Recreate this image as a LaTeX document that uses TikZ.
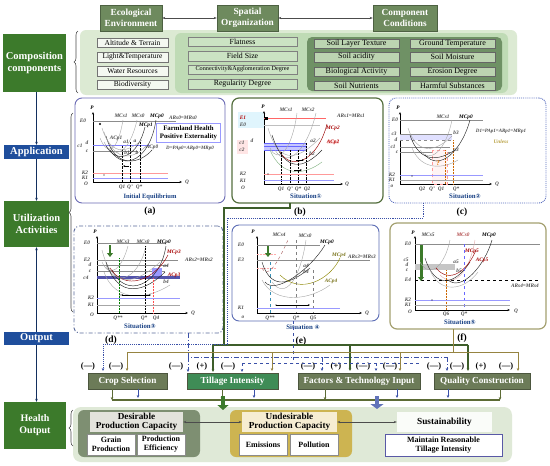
\documentclass[tikz,border=0pt]{standalone}
\usepackage{fontspec}
\setmainfont{Liberation Serif}
\newfontfamily\dvs{DejaVu Sans}
\usetikzlibrary{arrows.meta,decorations.pathreplacing}
\definecolor{dkgreen}{HTML}{3C7A2B}
\definecolor{hdrgreen}{HTML}{6E8A5E}
\definecolor{tblue}{HTML}{1F4E9C}
\definecolor{regL}{HTML}{DCEAD3}
\definecolor{regM}{HTML}{BFDBB5}
\definecolor{regD}{HTML}{6F9165}
\definecolor{boxL}{HTML}{F4F8F1}
\definecolor{boxM}{HTML}{CBE3C3}
\definecolor{boxR}{HTML}{BCD4B1}
\definecolor{outbox}{HTML}{6C7B58}
\definecolor{tillbox}{HTML}{3F8C56}
\definecolor{pA}{HTML}{6B6BB5}
\definecolor{pB}{HTML}{55703F}
\definecolor{pC}{HTML}{5A6FC0}
\definecolor{pD}{HTML}{5A6A9A}
\definecolor{pE}{HTML}{5B6CB5}
\definecolor{pF}{HTML}{A4A070}
\definecolor{lnOlive}{HTML}{968441}
\definecolor{lnGreen}{HTML}{3D5E2A}
\definecolor{lnBlue}{HTML}{3A50A8}
\definecolor{lnBot}{HTML}{5C6B35}
\definecolor{desG}{HTML}{7E8F72}
\definecolor{desH}{HTML}{E3E3DC}
\definecolor{undG}{HTML}{CDB451}
\definecolor{undH}{HTML}{F6EDD2}
\definecolor{regB}{HTML}{DFE9D7}
\definecolor{goldc}{HTML}{B8A040}
\newcommand\glf{\fontsize{5.3}{5.5}\selectfont\bfseries\itshape}
\newcommand\plbl[4][]{\node[glab,#1] (#2) at (#3) {#4};}
\newcommand\circd[1]{{\dvs\fontsize{6}{6}\selectfont #1}}
\begin{document}
\begin{tikzpicture}[x=1pt,y=-1pt,
  hdr/.style={draw=hdrgreen!70!black, fill=hdrgreen, text=white, font=\bfseries\fontsize{9.3}{10.5}\selectfont, align=center, inner sep=0pt, line width=0.6pt},
  side/.style={fill=dkgreen, text=white, font=\bfseries\fontsize{10.5}{12.5}\selectfont, align=center, inner sep=0pt},
  bluebox/.style={fill=tblue, text=white, font=\bfseries\fontsize{10.5}{11}\selectfont, inner sep=0pt},
  lbox/.style={draw=black!55, fill=boxL, font=\fontsize{7.5}{8}\selectfont, inner sep=0pt, line width=0.5pt, minimum width=71, minimum height=9.5},
  mbox/.style={draw=black!50, fill=boxM, font=\fontsize{7.8}{8}\selectfont, inner sep=0pt, line width=0.5pt, minimum width=109, minimum height=9.5},
  rbox/.style={draw=black!60, fill=boxR, font=\fontsize{8}{8}\selectfont, inner sep=0pt, line width=0.5pt, minimum width=85, minimum height=9.5},
  obox/.style={fill=outbox, draw=outbox!70!black, text=white, font=\bfseries\fontsize{9.2}{10}\selectfont, inner sep=0pt, minimum height=16},
  glab/.style={font=\glf, inner sep=0pt, text=black!70},
  sit/.style={font=\bfseries\fontsize{6.8}{7}\selectfont, text=tblue!85!black, inner sep=0pt},
  plab/.style={font=\bfseries\fontsize{9.5}{10}\selectfont, inner sep=0pt},
  sign/.style={font=\bfseries\fontsize{8.5}{9}\selectfont, inner sep=0pt},
  ax/.style={-{Stealth[length=2.5pt,width=2pt]}, line width=0.5pt},
  gc/.style={line width=0.4pt, black!35},
  bc/.style={line width=0.45pt, black!85},
  rc/.style={line width=0.45pt, red!60!black},
  hl/.style={line width=0.4pt, black!45},
  kl/.style={line width=0.4pt, blue!40},
  pnl/.style={rounded corners=7pt, inner sep=0pt, outer sep=0pt},
  vline/.style={line width=0.5pt, tblue!60!black, -{Stealth[length=3pt,width=2.5pt]}},
  gline/.style={draw=lnGreen, line width=1.1pt},
  oline/.style={draw=lnOlive, line width=1pt},
  bdot/.style={draw=lnBlue, densely dotted, line width=0.9pt},
  bdd/.style={draw=lnBlue, dash pattern=on 5pt off 2pt on 1pt off 2pt, line width=0.8pt},
  bdash/.style={draw=lnBlue, dashed, line width=0.8pt},
  arr/.style={-{Stealth[length=3pt,width=2.6pt]}},
  grp/.style={inner sep=0pt, rounded corners=6pt},
  cell/.style={draw=black!45, fill=white, font=\bfseries\fontsize{8}{9}\selectfont, align=center, inner sep=0pt, minimum width=48, minimum height=21},
]
\useasboundingbox (0,0) rectangle (550,466);
\fill[white] (0,0) rectangle (550,466);

% ---------- composition components ----------
\fill[regL, rounded corners=6pt] (80,30) rectangle (517,95);
\fill[regM, rounded corners=6pt] (175,33) rectangle (508,93);
\fill[regD, rounded corners=5pt] (307,37) rectangle (502,91);
\node[hdr, minimum width=62, minimum height=26] (eco) at (131,18) {Ecological\\Environment};
\node[hdr, minimum width=61, minimum height=26] (spa) at (247.5,18) {Spatial\\Organization};
\node[hdr, minimum width=64, minimum height=26] (cmp) at (405,18) {Component\\Conditions};
\draw[{Stealth[length=3pt]}-{Stealth[length=3pt]}, line width=0.4pt, black!70] (eco) -- (spa);
\draw[{Stealth[length=3pt]}-{Stealth[length=3pt]}, line width=0.4pt, black!70] (spa) -- (cmp);
\node[side, minimum width=63, minimum height=58] (comp) at (34.5,63) {Composition\\components};
\draw[decorate, decoration={brace, amplitude=4pt}, line width=0.6pt, black!70] (78,93) -- (78,31);
\node[lbox] (l1) at (132.5,42.5) {Altitude \& Terrain};
\node[lbox] (l2) at (132.5,57) {Light\&Temperature};
\node[lbox] (l3) at (132.5,71) {Water Resources};
\node[lbox] (l4) at (132.5,84.5) {Biodiversity};
\node[mbox] (m1) at (242.5,41.5) {Flatness};
\node[mbox] (m2) at (242.5,56) {Field Size};
\node[mbox, font=\fontsize{6.2}{6.5}\selectfont] (m3) at (242.5,69.5) {Connectivity\&Agglomeration Degree};
\node[mbox] (m4) at (242.5,84) {Regularity Degree};
\node[rbox] (r1) at (356.5,43.5) {Soil Layer Texture};
\node[rbox] (r2) at (452.5,43.5) {Ground Temperature};
\node[rbox] (r3) at (356.5,57) {Soil acidity};
\node[rbox] (r4) at (452.5,57) {Soil Moisture};
\node[rbox] (r5) at (356.5,71.5) {Biological Activity};
\node[rbox] (r6) at (452.5,71.5) {Erosion Degree};
\node[rbox] (r7) at (356.5,85.5) {Soil Nutrients};
\node[rbox] (r8) at (452.5,85.5) {Harmful Substances};

% ---------- left column ----------
\node[bluebox, minimum width=65, minimum height=14] (app) at (36.5,152) {Application};
\node[side, minimum width=65, minimum height=46] (util) at (36.5,224) {Utilization\\Activities};
\node[bluebox, minimum width=65, minimum height=13] (outp) at (36.5,338.5) {Output};
\node[side, font=\bfseries\fontsize{10}{12}\selectfont, minimum width=62, minimum height=47] (hout) at (35,425.5) {Health\\Output};
\draw[vline] (comp.south -| app.north) -- (app.north);
\draw[vline] (app.south) -- (util.north);
\draw[vline] (outp.north) -- (util.south);
\draw[vline] (outp.south) -- (outp.south |- hout.north);
\draw[decorate, decoration={brace, amplitude=4pt}, line width=0.6pt, black!70] (73,312) -- (73,113);

% ---------- panel (a) ----------
\node[pnl, draw=pA, line width=0.9pt, minimum width=150, minimum height=105] (pa) at (150,150.5) {};
\draw[ax] (93,182) -- (93,112);
\draw[ax] (93,182) -- (182,182);
\plbl[text=black]{aP}{92,108}{P}
\plbl{aQ}{187,182}{Q}
\plbl{aE0}{83,121}{E0}
\draw[hl] (93,121) -- (176,121);
\fill (100,124) circle (1.2);
\draw[hl, blue!50] (93,145) -- (150,145);
\draw[hl] (93,151) -- (138,151);
\draw[kl, red!40] (93,173) -- (168,173);
\draw[kl] (93,178) -- (168,178);
\draw[densely dotted, line width=0.4pt] (122,146) -- (122,182);
\draw[densely dotted, line width=0.4pt] (130,142) -- (130,182);
\draw[densely dotted, line width=0.4pt] (140,142) -- (140,182);
\draw[-{Stealth[length=2pt]}, line width=0.3pt] (129,166) -- (123,166);
\fill (104,175) circle (0.6);
\draw[gc] (100,138) .. controls (108,158) and (118,150) .. (123,120);
\draw[gc] (104,142) .. controls (114,162) and (130,152) .. (137,120);
\draw[bc] (106,146) .. controls (118,166) and (138,156) .. (145,127);
\draw[bc] (110,150) .. controls (124,172) and (150,160) .. (156,120);
\draw[gc] (102,128) .. controls (112,160) and (130,150) .. (142,140);
\draw[bc] (106,136) .. controls (116,172) and (142,162) .. (152,150);
\draw[gc] (104,132) .. controls (115,165) and (135,158) .. (146,146);
\plbl{aMCs1}{121,116}{MCs1}
\plbl{aMCs0}{138,116}{MCs0}
\plbl[text=black]{aMCp0}{157,116}{MCp0}
\plbl[text=black]{aMCp1}{146,125}{MCp1}
\plbl{aACp1}{116,138}{ACp1}
\plbl{aa1}{126,142}{a1}
\plbl{aa}{135,141}{a}
\plbl{ab1}{127,153}{b1}
\plbl{ab}{137,153}{b}
\plbl{aACp0}{152,147}{ACp0}
\plbl{ac1}{80,146}{c1}
\plbl{ad}{87,143}{d}
\plbl{ac}{87,151}{c}
\plbl{aK2}{85,173}{K2}
\plbl{aK1}{85,178}{K1}
\plbl{aO}{86,184}{O}
\plbl{aQ1}{122,187}{Q1}
\plbl{aQp}{130,187}{Q'}
\plbl{aQs}{139,187}{Q*}
\plbl{aARs}{183,118}{ARs0=MRs0}
\node[draw=blue!40, fill=white, font=\bfseries\fontsize{6.8}{7.8}\selectfont, align=center, minimum width=64, minimum height=19, inner sep=0pt] (abox) at (188.5,132.5) {Farmland Health\\Positive Externality};
\plbl[font=\fontsize{5}{5}\selectfont\bfseries\itshape]{aD}{190,148}{D=PAp0=ARp0=MRp0}
\node[sit, font=\bfseries\fontsize{6.5}{7}\selectfont] (asit) at (150,197) {Initial Equilibrium};
\node[plab] (alab) at (150,211) {(a)};

% ---------- panel (b) ----------
\node[pnl, draw=pB, line width=1.2pt, minimum width=151, minimum height=105] (pb) at (307.5,150.5) {};
\fill[cyan!12] (238,112) rectangle (264,128);
\fill[pink!40] (237,140) rectangle (248,154);
\draw[ax] (264,184) -- (264,111);
\draw[ax] (264,184) -- (343,184);
\plbl[text=black]{bP}{263,107}{P}
\plbl{bQ}{347,184}{Q}
\plbl[text=red!70!black]{bE1}{243,118}{E1}
\plbl{bE0}{243,125}{E0}
\draw[line width=0.6pt, red!60] (264,118) -- (326,118);
\draw[hl, black!25] (264,125) -- (320,125);
\fill (264.5,116.5) rectangle (267.5,119.5);
\fill[blue!22] (264,143) rectangle (307,150);
\draw[hl, blue!60] (264,143) -- (307,143);
\draw[hl, blue!60] (264,146.5) -- (307,146.5);
\draw[hl, blue!60] (264,150) -- (307,150);
\draw[gc] (270,148) .. controls (278,165) and (292,150) .. (297,113);
\draw[gc] (275,150) .. controls (285,168) and (306,155) .. (316,113);
\draw[rc] (280,152) .. controls (292,172) and (318,160) .. (327,124);
\draw[gc] (268,128) .. controls (280,168) and (300,158) .. (320,138);
\draw[bc] (272,135) .. controls (285,175) and (305,168) .. (322,150);
\draw[gc, green!40!black!50] (270,150) .. controls (282,178) and (305,175) .. (322,162);
\draw[densely dotted, line width=0.4pt] (281,152) -- (281,184);
\draw[densely dotted, line width=0.4pt] (290,150) -- (290,184);
\draw[densely dotted, line width=0.4pt] (298,150) -- (298,184);
\draw[densely dotted, line width=0.4pt] (306,143) -- (306,184);
\draw[-{Stealth[length=2pt]}, line width=0.3pt] (296,160) -- (304,160);
\draw[-{Stealth[length=2pt]}, line width=0.3pt] (294,170) -- (302,170);
\draw[kl, red!40] (264,174) -- (334,174);
\draw[kl] (264,180) -- (334,180);
\fill (268,174) circle (0.6);
\plbl{bMCs1}{286,110}{MCs1}
\plbl{bMCs2}{308,110}{MCs2}
\plbl[text=red!65!black]{bMCp2}{333,128}{MCp2}
\node[glab, fill=pink!40, text=red!70!black] (bACp2) at (333,142) {ACp2};
\plbl{bARs}{351,116}{ARs1=MRs1}
\plbl{bc1}{242,143}{c1}
\plbl{bd}{252,141}{d}
\plbl{bc2}{242,150}{c2}
\plbl{ba2}{313,141}{a2}
\plbl{bb2}{312,154}{b2}
\plbl{bK2}{243,174}{K2}
\plbl{bK1}{243,181}{K1}
\plbl{bO}{243,188}{O}
\plbl{bQ1}{281,189}{Q1}
\plbl{bQp}{290,189}{Q'}
\plbl{bQs}{298,189}{Q*}
\plbl{bQ2}{307,189}{Q2}
\node[sit] (bsit) at (306,196) {Situation\circd{①}};
\node[plab] (blab) at (300,212) {(b)};

% ---------- panel (c) ----------
\node[pnl, draw=pC, line width=0.9pt, densely dotted, minimum width=157, minimum height=105] (pc) at (467.5,150.5) {};
\draw[ax] (400,184) -- (400,112);
\draw[ax] (400,184) -- (492,184);
\plbl[text=black]{cP}{398,108}{P}
\plbl{cQ}{497,184}{Q}
\plbl{cE0}{395,120}{E0}
\draw[hl] (400,120) -- (483,120);
\fill[blue!12] (400,134) rectangle (452,140);
\draw[hl] (400,134) -- (452,134);
\draw[hl, dashed] (400,140) -- (452,140);
\draw[hl] (400,147) -- (450,147);
\draw[hl] (400,152) -- (450,152);
\fill[pink!18] (432,150) rectangle (447,184);
\draw[line width=0.4pt, pink!80!red, dashed] (432,150) rectangle (447,184);
\draw[line width=0.5pt, orange!80!black, densely dotted] (445,150) -- (445,184);
\draw[line width=0.5pt, orange!80!black, densely dotted] (453,140) -- (453,184);
\draw[gc] (408,128) .. controls (418,158) and (438,150) .. (452,136);
\draw[bc] (410,135) .. controls (420,165) and (440,160) .. (455,150);
\draw[gc] (412,148) .. controls (422,172) and (445,168) .. (458,160);
\draw[gc] (420,150) .. controls (430,165) and (446,150) .. (452,120);
\draw[bc] (425,155) .. controls (440,172) and (462,150) .. (470,120);
\draw[kl] (400,175) -- (483,175);
\draw[kl, black!35] (400,180) -- (483,180);
\fill (412,176) circle (0.6);
\plbl{cMCs1}{443,117}{MCs1}
\plbl[text=black]{cMCp0}{466,117}{MCp0}
\plbl{cc3}{394,134}{c3}
\plbl{cd}{396,140}{d}
\plbl{cc1}{393,147}{c1}
\plbl{cc}{397,152}{c}
\plbl{cb3}{456,133}{b3}
\plbl{ca3}{456,150}{a3}
\plbl[font=\fontsize{5}{5}\selectfont\bfseries\itshape]{cD1}{501,131}{D1=PAp1=ARp1=MRp1}
\plbl[text=goldc]{cUnl}{501,142}{Unless}
\node[font=\bfseries\fontsize{7}{7}\selectfont, text=orange!90!black, inner sep=0pt] (cq) at (438,163) {?};
\plbl{cK2}{392,175}{K2}
\plbl{cK1}{392,180}{K1}
\plbl{co}{392,186}{o}
\plbl{cQ2}{422,189}{Q2}
\plbl{cQp}{432,189}{Q'}
\plbl{cQ1}{441,189}{Q1}
\plbl{cQs}{456,189}{Q*}
\node[sit] (csit) at (465,196) {Situation\circd{②}};
\node[plab] (clab) at (462,212) {(c)};

% ---------- panel (d) ----------
\node[pnl, rounded corners=5pt, draw=pD, line width=0.9pt, dash pattern=on 4pt off 2pt on 1pt off 2pt, minimum width=149, minimum height=107] (pd) at (148.5,279.5) {};
\draw[ax] (97,313) -- (97,236);
\draw[ax] (97,313) -- (188,313);
\plbl[text=black]{dP}{95,232}{P}
\plbl{dQ}{193,313}{Q}
\plbl{dE0}{87,243}{E0}
\plbl{dE2}{87,260}{E2}
\draw[hl] (97,243) -- (165,243);
\draw[hl] (97,260) -- (178,260);
\draw[hl] (97,265) -- (168,265);
\draw[hl] (97,271) -- (165,271);
\draw[line width=2.5pt, blue!35!gray] (97,277.5) -- (180,277.5);
\fill[blue!40] (152,268) rectangle (162,276);
\draw[-{Triangle[length=4pt,width=6pt]}, line width=2.5pt, dkgreen] (110,245) -- (110,257);
\draw[gc] (102,262) .. controls (110,280) and (122,268) .. (128,246);
\draw[gc] (106,266) .. controls (118,290) and (140,275) .. (146,246);
\draw[bc] (112,270) .. controls (126,300) and (160,285) .. (166,246);
\draw[rc] (110,268) .. controls (125,292) and (155,280) .. (168,255);
\draw[gc] (102,250) .. controls (112,290) and (135,285) .. (160,262);
\draw[bc] (106,262) .. controls (118,300) and (145,292) .. (165,272);
\draw[gc] (104,272) .. controls (116,305) and (150,298) .. (170,285);
\draw[densely dotted, line width=0.5pt, green!50!black] (119,258) -- (119,313);
\draw[densely dotted, line width=0.5pt] (145,246) -- (145,313);
\draw[densely dotted, line width=0.5pt, red!70] (153,278) -- (153,313);
\draw[kl] (97,298) -- (180,298);
\draw[kl, black!35] (97,305) -- (180,305);
\draw[{Stealth[length=2pt]}-{Stealth[length=2pt]}, line width=0.35pt] (121,295) -- (151,295);
\fill (120,295) circle (0.6);
\plbl{dMCs3}{123,242}{MCs3}
\plbl{dMCs0}{143,242}{MCs0}
\plbl[text=black]{dMCp0}{164,242}{MCp0}
\plbl[text=red!65!black]{dMCp3}{174,252}{MCp3}
\plbl[text=red!65!black]{dACp3}{174,275}{ACp3}
\plbl{dARs}{199,260}{ARs2=MRs2}
\plbl{dd}{90,265}{d}
\plbl{dc}{90,271}{c}
\plbl{dc4}{86,278}{c4}
\plbl{da4}{166,266}{a4}
\plbl{db4}{166,282}{b4}
\plbl{dK2}{91,298}{K2}
\plbl{dK1}{91,305}{K1}
\plbl{dO}{92,315}{O}
\plbl{dQss}{118,318}{Q**}
\plbl{dQs}{144,318}{Q*}
\plbl{dQ4}{156,318}{Q4}
\node[sit] (dsit) at (140,326) {Situation\circd{③}};
\node[plab] (dlab) at (111,340) {(d)};

% ---------- panel (e) ----------
\node[pnl, draw=pE, line width=0.9pt, minimum width=147, minimum height=96] (pe) at (305.5,273) {};
\draw[ax] (257,313) -- (257,236);
\draw[ax] (257,313) -- (362,313);
\plbl[text=black]{eP}{253,232}{P}
\plbl{eQ}{367,313}{Q}
\plbl{eE0}{241,245}{E0}
\plbl{eE3}{241,260}{E3}
\draw[hl] (257,245) -- (320,245);
\draw[hl] (257,260) -- (370,260);
\draw[densely dotted, line width=0.4pt, pink!90!red] (257,254) -- (276,254);
\draw[densely dotted, line width=0.4pt, pink!90!red] (257,268) -- (276,268);
\draw[-{Triangle[length=4pt,width=6pt]}, line width=2.5pt, dkgreen] (268,246) -- (268,257);
\draw[gc, dashed, red!30!gray] (262,268) .. controls (268,280) and (278,262) .. (288,240);
\draw[gc] (272,282) .. controls (285,300) and (300,280) .. (306,240);
\draw[bc] (265,282) .. controls (275,295) and (310,270) .. (325,245);
\draw[bc] (262,262) .. controls (272,295) and (295,280) .. (310,268);
\draw[gc] (262,280) .. controls (275,305) and (310,300) .. (330,285);
\draw[line width=0.45pt, olive] (280,275) .. controls (300,295) and (330,280) .. (340,258);
\draw[dashed, line width=0.5pt, cyan!70!black] (270,262) -- (270,313);
\draw[dashed, line width=0.5pt, black!50] (296,240) -- (296,313);
\draw[dashed, line width=0.5pt, black!50] (313,270) -- (313,313);
\draw[kl] (257,308) -- (340,308);
\draw[-{Stealth[length=2pt]}, line width=0.35pt] (276,305) -- (310,305);
\fill (276,305) circle (0.6);
\plbl{eMCs4}{279,235}{MCs4}
\plbl{eMCs0}{305,236}{MCs0}
\plbl[text=black]{eMCp0}{327,242}{MCp0}
\plbl[text=olive!80!black]{eMCp4}{339,255}{MCp4}
\plbl[text=olive!80!black]{eACp4}{331,281}{ACp4}
\plbl{eARs}{362,257}{ARs3=MRs3}
\plbl{ea4}{306,266}{a4}
\plbl{eb4}{306,272}{b4}
\plbl{eK1}{241,308}{K1}
\plbl{eo}{243,317}{o}
\plbl{eQss}{270,318}{Q**}
\plbl{eQs}{296,318}{Q*}
\plbl{eQ5}{313,318}{Q5}
\node[sit] (esit) at (303,327) {Situation \circd{④}};
\node[plab] (elab) at (301,341) {(e)};

% ---------- panel (f) ----------
\node[pnl, draw=pF, line width=1.2pt, minimum width=156, minimum height=106] (pf) at (468,276) {};
\draw[ax] (415,310) -- (415,236);
\draw[ax] (415,310) -- (510,310);
\plbl[text=black]{fP}{413,233}{P}
\plbl{fQ}{516,311}{Q}
\plbl{fE0}{408,244}{E0}
\draw[hl] (415,244) -- (540,244);
\fill[gray!45] (415,264) rectangle (455,270);
\draw[dashed, line width=1pt] (415,280) -- (540,280);
\draw[line width=3pt, dkgreen, -{Triangle[length=4pt,width=6pt]}] (421,245) -- (421,281);
\draw[gc] (420,262) .. controls (430,280) and (445,265) .. (450,240);
\draw[line width=0.45pt, pink!80!gray] (440,275) .. controls (455,290) and (470,270) .. (475,240);
\draw[bc] (448,280) .. controls (462,292) and (485,265) .. (492,240);
\draw[bc] (425,258) .. controls (435,290) and (455,285) .. (470,262);
\draw[gc] (430,270) .. controls (440,295) and (465,290) .. (478,272);
\draw[rc] (436,268) .. controls (450,285) and (468,270) .. (476,250);
\draw[densely dotted, line width=0.5pt, orange!80!black] (446,270) -- (446,310);
\draw[dashed, line width=0.5pt, blue!60] (464,244) -- (464,310);
\draw[kl] (415,300) -- (510,300);
\draw[kl, black!35] (415,305) -- (510,305);
\fill (432,300) circle (0.6);
\plbl{fMCs5}{428,235}{MCs5}
\plbl[text=red!40!gray]{fMCs0}{463,235}{MCs0}
\plbl[text=black]{fMCp0}{489,235}{MCp0}
\plbl[text=red!65!black]{fMCp5}{472,251}{MCp5}
\plbl[text=red!65!black]{fACp5}{482,260}{ACp5}
\plbl{fc5}{406,260}{c5}
\plbl{fd}{407,265}{d}
\plbl{fc}{407,270}{c}
\plbl{fE4}{408,280}{E4}
\plbl{fARs}{525,286}{ARs4=MRs4}
\plbl{fa5}{456,262}{a5}
\plbl{fb5}{459,271}{b5}
\plbl{fK2}{408,300}{K2}
\plbl{fK1}{408,305}{K1}
\plbl{fO}{410,312}{O}
\plbl{fQ6}{446,314}{Q6}
\plbl{fQs}{464,314}{Q*}
\node[sit] (fsit) at (460,322) {Situation\circd{⑤}};
\node[plab] (flab) at (462,338) {(f)};

% ---------- output row ----------
\node[obox, minimum width=79] (crop) at (127.5,381) {Crop Selection};
\node[obox, fill=tillbox, minimum width=91] (till) at (232.5,381) {Tillage Intensity};
\node[obox, minimum width=122] (fact) at (359,381) {Factors \& Technology Input};
\node[obox, minimum width=96] (qual) at (482,381) {Quality Construction};
\node[sign] (s1) at (88,366) {(—)};
\node[sign] (s2) at (116,366) {(—)};
\node[sign] (s3) at (176,366) {(—)};
\node[sign] (s4) at (202,366) {(+)};
\node[sign] (s5) at (228,366) {(—)};
\node[sign] (s6) at (308,366) {(—)};
\node[sign] (s7) at (336,366) {(+)};
\node[sign] (s8) at (363,366) {(—)};
\node[sign] (s9) at (390,366) {(—)};
\node[sign] (s10) at (434,366) {(—)};
\node[sign] (s11) at (457,366) {(—)};
\node[sign] (s12) at (481,366) {(+)};
\node[sign] (s13) at (506,366) {(—)};

% connectors from panels
\coordinate (bsrc) at (290,203);
\coordinate (csrc) at (423,203);
\coordinate (dsrc) at (188,333);
\coordinate (esrc) at (293,321);
\coordinate (fsrc) at (453,329);
\draw[gline] (bsrc) -- (290,208) -- (224,208) -- (224,345);
\draw[gline] (213,345) -- (468,345);
\draw[gline, arr] (213,345) -- (213,372);
\draw[gline, arr] (350,345) -- (350,371);
\draw[gline, arr] (468,345) -- (468,371);
\draw[bdot] (csrc) -- (423,218) -- (227,218) -- (227,344) -- (103,344);
\draw[bdot, arr] (103,344) -- (103,371);
\draw[bdd] (dsrc) -- (188,357) -- (447,357);
\draw[bdd, arr] (188,357) -- (188,372);
\draw[bdd, arr] (322,357) -- (322,371);
\draw[bdd, arr] (447,357) -- (447,371);
\draw[bdash] (esrc) -- (293,363);
\draw[bdash] (242,363) -- (420,363);
\draw[bdash, arr] (242,363) -- (242,372);
\draw[bdash, arr] (376,363) -- (376,371);
\draw[oline] (fsrc) -- (453,352);
\draw[oline] (127,352) -- (518,352);
\draw[oline, arr] (127,352) -- (127,371);
\draw[oline, arr] (272,352) -- (272,371);
\draw[oline, arr] (400,352) -- (400,371);
\draw[oline, arr] (518,352) -- (518,371);

% ---------- bottom ----------
\fill[regB, rounded corners=8pt] (73,407) rectangle (512,462);
\foreach \x in {112,222,325,500} \draw[draw=lnBot, line width=0.9pt, arr] (\x,389) -- (\x,400);
\draw[draw=lnBot, line width=1.2pt] (112,400) -- (500,400);
\foreach \x in {138,254,397,448} \draw[draw=lnBlue, line width=0.9pt, arr] (\x,389) -- (\x,398);
\draw[draw=dkgreen, line width=4pt, -{Triangle[length=5pt,width=11pt]}] (223,396) -- (223,410);
\draw[draw=lnBlue!80, line width=4pt, -{Triangle[length=5pt,width=13pt]}] (377,396) -- (377,409);
\draw[decorate, decoration={brace, amplitude=4pt}, line width=0.6pt, black!70] (73,446) -- (73,410);
\node[grp, fill=desG, minimum width=122, minimum height=47] (dg) at (139,433.5) {};
\node[fill=desH, font=\bfseries\fontsize{9.2}{9.5}\selectfont, align=center, inner sep=0pt, minimum width=93, minimum height=20] (dh) at (136.5,422) {Desirable\\Production Capacity};
\node[cell] (grain) at (111,444.5) {Grain\\Production};
\node[cell] (eff) at (161,444.5) {Production\\Efficiency};
\node[grp, fill=undG, minimum width=122, minimum height=47] (ug) at (291,433.5) {};
\node[fill=undH, font=\bfseries\fontsize{9.2}{9.5}\selectfont, align=center, inner sep=0pt, minimum width=95, minimum height=20] (uh) at (289.5,422) {Undesirable\\Production Capacity};
\node[cell] (emis) at (263,444.5) {Emissions};
\node[cell] (poll) at (314,444.5) {Pollution};
\node[fill=white!85!regB, font=\bfseries\fontsize{9.3}{10}\selectfont, inner sep=0pt, minimum width=95, minimum height=20] (sh) at (444.5,422) {Sustainability};
\node[cell, draw=blue!30!gray, minimum width=117, minimum height=22] (maint) at (443.5,445) {Maintain Reasonable\\Tillage Intensity};
\draw[{Stealth[length=3pt]}-{Stealth[length=3pt]}, line width=0.5pt, black!70] (dh.east) -- (uh.west);
\draw[{Stealth[length=3pt]}-{Stealth[length=3pt]}, line width=0.5pt, black!70] (uh.east) -- (sh.west);
\end{tikzpicture}
\end{document}
